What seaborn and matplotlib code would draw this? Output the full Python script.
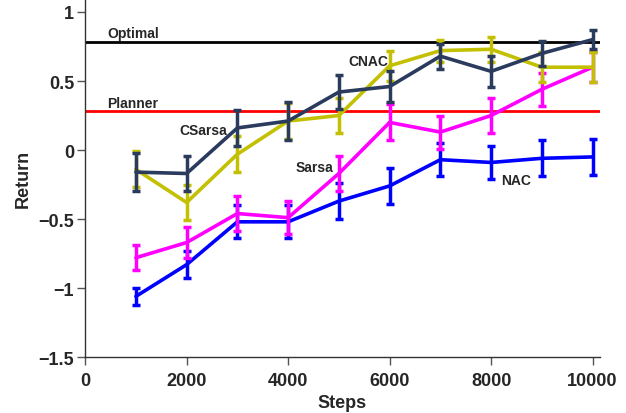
import numpy as np
import pandas as pd
import matplotlib
matplotlib.use("Agg")
import matplotlib.pyplot as plt
import seaborn as sns

steps = [1000, 2000, 3000, 4000, 5000, 6000, 7000, 8000, 9000, 10000]

# mean return and half-width of the error bars
nac = [-1.06, -0.83, -0.52, -0.52, -0.37, -0.26, -0.07, -0.09, -0.06, -0.05]
nac_err = [0.06, 0.10, 0.12, 0.12, 0.13, 0.13, 0.12, 0.12, 0.13, 0.13]
sarsa = [-0.78, -0.67, -0.46, -0.49, -0.17, 0.20, 0.13, 0.25, 0.44, 0.60]
sarsa_err = [0.09, 0.11, 0.13, 0.12, 0.13, 0.13, 0.12, 0.13, 0.12, 0.11]
cnac = [-0.14, -0.38, -0.03, 0.21, 0.25, 0.61, 0.72, 0.73, 0.60, 0.60]
cnac_err = [0.13, 0.13, 0.13, 0.13, 0.13, 0.11, 0.08, 0.09, 0.11, 0.11]
csarsa = [-0.16, -0.17, 0.16, 0.21, 0.42, 0.46, 0.68, 0.57, 0.70, 0.80]
csarsa_err = [0.14, 0.13, 0.13, 0.14, 0.12, 0.11, 0.09, 0.11, 0.09, 0.07]

optimal = 0.78
planner = 0.28

series = [
    ("NAC", nac, nac_err, "#0000ff"),
    ("Sarsa", sarsa, sarsa_err, "#ff00ff"),
    ("CNAC", cnac, cnac_err, "#c2c000"),
    ("CSarsa", csarsa, csarsa_err, "#2a3b5e"),
]

sns.set_style("ticks")
plt.rcParams["font.family"] = ["Liberation Sans", "DejaVu Sans"]
plt.rcParams["font.weight"] = "bold"

fig = plt.figure(figsize=(6.26, 4.14), dpi=100)
ax = fig.add_axes([0.136, 0.135, 0.822, 0.865])

ax.axhline(optimal, color="black", lw=2, zorder=1)
ax.axhline(planner, color="#ff0000", lw=2, zorder=1)

for name, vals, err, col in series:
    df = pd.DataFrame({"Steps": steps, "Return": vals})
    ax.errorbar(steps, vals, yerr=err, fmt="none", ecolor=col,
                elinewidth=2.5, capsize=3.2, capthick=2.5, zorder=3)
    sns.lineplot(data=df, x="Steps", y="Return", color=col, lw=2.6,
                 ax=ax, zorder=3)

txt = dict(fontsize=10, fontweight="bold", va="center", ha="left")
ax.text(430, 0.85, "Optimal", **txt)
ax.text(430, 0.34, "Planner", **txt)
ax.text(1850, 0.145, "CSarsa", **txt)
ax.text(4140, -0.12, "Sarsa", **txt)
ax.text(5190, 0.645, "CNAC", **txt)
ax.text(8200, -0.22, "NAC", **txt)

ax.set_xlim(0, 10140)
ax.set_ylim(-1.5, 1.094)
ax.set_xticks([0, 2000, 4000, 6000, 8000, 10000])
ax.set_yticks([-1.5, -1, -0.5, 0, 0.5, 1])
ax.set_yticklabels(["\u22121.5", "\u22121", "\u22120.5", "0", "0.5", "1"])
ax.tick_params(labelsize=13, length=6, width=1, color="#555555")
ax.tick_params(axis="x", pad=5)
ax.tick_params(axis="y", pad=2)
for lab in ax.get_xticklabels() + ax.get_yticklabels():
    lab.set_fontweight("bold")
ax.set_xlabel("Steps", fontsize=13, fontweight="bold", labelpad=3)
ax.set_ylabel("Return", fontsize=13, fontweight="bold", labelpad=5)
sns.despine(ax=ax)
for s in ("left", "bottom"):
    ax.spines[s].set_color("#333333")
    ax.spines[s].set_linewidth(1)

fig.savefig("out.png", dpi=100)
